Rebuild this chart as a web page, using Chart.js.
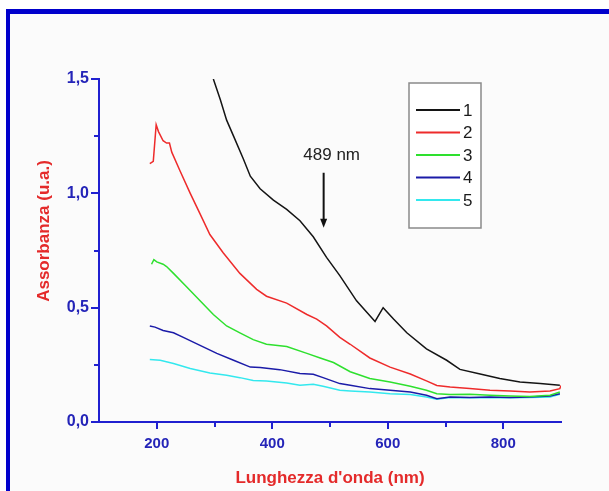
<!DOCTYPE html>
<html><head><meta charset="utf-8">
<script src="https://cdn.jsdelivr.net/npm/chart.js@4"></script>
<style>
html,body{margin:0;padding:0;background:#fff;overflow:hidden;width:609px;height:491px;}
#frame{position:absolute;left:6px;top:9px;width:700px;height:600px;border-left:4px solid #0000cc;border-top:5px solid #0000cc;background:#fbfbfb;}
#wrap{position:absolute;left:0;top:0;width:609px;height:491px;}
</style></head><body>
<div id="frame"></div>
<div id="wrap"><canvas id="c" width="609" height="491"></canvas></div>
<script>
// ---- data ----
const seriesNames = ['1','2','3','4','5'];
const wl1 = [298,310,321,333,350,362,379,402,425,448,471,494,517,546,578,592,610,633,667,702,725,760,794,829,864,898];
const abs1 = [1.50,1.41,1.32,1.25,1.15,1.075,1.02,0.97,0.93,0.88,0.81,0.72,0.64,0.53,0.44,0.50,0.45,0.39,0.32,0.27,0.23,0.21,0.19,0.175,0.168,0.161];
const wl2 = [188,194,199,203,211,217,222,226,240,258,275,292,315,344,373,390,425,460,477,494,517,535,569,604,639,667,685,708,742,777,812,846,881,898,900];
const abs2 = [1.13,1.14,1.30,1.27,1.23,1.22,1.22,1.18,1.10,1.00,0.91,0.82,0.74,0.65,0.58,0.55,0.52,0.47,0.45,0.42,0.37,0.34,0.28,0.24,0.21,0.18,0.16,0.153,0.146,0.139,0.136,0.131,0.136,0.146,0.16];
const wl3 = [191,195,200,211,217,229,252,275,298,321,344,367,390,425,460,483,506,535,569,604,639,667,685,708,742,777,812,846,881,898];
const abs3 = [0.69,0.71,0.70,0.69,0.68,0.65,0.59,0.53,0.47,0.42,0.39,0.36,0.34,0.33,0.30,0.28,0.26,0.22,0.19,0.175,0.156,0.139,0.124,0.12,0.121,0.117,0.114,0.112,0.117,0.131];
const wl4 = [188,197,211,229,246,275,304,333,362,379,413,448,471,488,517,535,569,604,639,667,685,708,742,777,812,846,881,898];
const abs4 = [0.42,0.415,0.40,0.39,0.37,0.335,0.30,0.27,0.24,0.238,0.229,0.212,0.209,0.194,0.168,0.161,0.146,0.139,0.131,0.117,0.102,0.109,0.107,0.109,0.107,0.109,0.114,0.124];
const wl5 = [188,206,229,258,292,321,344,367,390,425,448,471,488,517,535,569,604,639,667,685,708,742,777,812,846,881,898];
const abs5 = [0.273,0.27,0.256,0.234,0.214,0.204,0.194,0.182,0.179,0.171,0.161,0.165,0.156,0.139,0.136,0.131,0.124,0.12,0.109,0.099,0.107,0.106,0.107,0.106,0.107,0.109,0.121];
const xMajorTicks = [200,400,600,800];
const xMinorTicks = [300,500,700];
const yMajorTicks = [0,0.5,1.0,1.5];
const yMinorTicks = [0.25,0.75,1.25];
const arrowWl = 489, arrowTop = 1.09, arrowTip = 0.85, arrowLabel = '489 nm';

// ---- styling ----
const FONT = "'Liberation Sans', Arial, sans-serif";
const axisBlue = '#2020d0';
const labelBlue = '#2424b8';
const titleRed = '#e42a2a';
const colors = ['#141414','#ee2b2b','#2ee02e','#1b1ba8','#33e8ee'];
const wls = [wl1,wl2,wl3,wl4,wl5];
const abss = [abs1,abs2,abs3,abs4,abs5];

const datasets = seriesNames.map((n,i)=>({
  label:n,
  data: wls[i].map((w,j)=>({x:w,y:abss[i][j]})),
  borderColor: colors[i],
  backgroundColor: colors[i],
  borderWidth: 1.5,
  pointRadius: 0,
  tension: 0,
  fill:false
}));

const overlay = {
  id:'overlay',
  afterDraw(chart){
    const {ctx, scales:{x,y}} = chart;
    ctx.save();
    // minor ticks
    ctx.strokeStyle = axisBlue; ctx.lineWidth = 2;
    xMinorTicks.forEach(v=>{const px=Math.round(x.getPixelForValue(v)); ctx.beginPath(); ctx.moveTo(px, y.bottom); ctx.lineTo(px, y.bottom+5); ctx.stroke();});
    yMinorTicks.forEach(v=>{const py=Math.round(y.getPixelForValue(v)); ctx.beginPath(); ctx.moveTo(x.left, py); ctx.lineTo(x.left-5, py); ctx.stroke();});
    // y title
    ctx.fillStyle = titleRed;
    ctx.font = 'bold 17px ' + FONT;
    ctx.textAlign='center'; ctx.textBaseline='middle';
    ctx.translate(44, 231); ctx.rotate(-Math.PI/2);
    ctx.fillText('Assorbanza (u.a.)', 0, 0);
    ctx.setTransform(1,0,0,1,0,0);
    // legend
    const lx=409, ly=83, lw=72, lh=145;
    ctx.fillStyle='#ffffff'; ctx.fillRect(lx,ly,lw,lh);
    ctx.strokeStyle='#8a8a8a'; ctx.lineWidth=1.5; ctx.strokeRect(lx,ly,lw,lh);
    ctx.font = '17px ' + FONT; ctx.textAlign='left'; ctx.textBaseline='middle';
    chart.data.datasets.forEach((ds,i)=>{
      const ry = 110 + i*22.5;
      ctx.strokeStyle = ds.borderColor; ctx.lineWidth=2;
      ctx.beginPath(); ctx.moveTo(416, ry); ctx.lineTo(460, ry); ctx.stroke();
      ctx.fillStyle='#1a1a1a'; ctx.fillText(ds.label, 463, ry+1);
    });
    // annotation arrow
    const ax = x.getPixelForValue(arrowWl);
    const at = y.getPixelForValue(arrowTop), ab = y.getPixelForValue(arrowTip);
    ctx.strokeStyle='#111'; ctx.fillStyle='#111'; ctx.lineWidth=2;
    ctx.beginPath(); ctx.moveTo(ax, at); ctx.lineTo(ax, ab-8); ctx.stroke();
    ctx.beginPath(); ctx.moveTo(ax-3.5, ab-9); ctx.lineTo(ax+3.5, ab-9); ctx.lineTo(ax, ab); ctx.closePath(); ctx.fill();
    ctx.font = '17px ' + FONT; ctx.textAlign='center'; ctx.textBaseline='middle';
    ctx.fillStyle='#222';
    ctx.fillText(arrowLabel, ax+8, at-17);
    ctx.restore();
  }
};

new Chart(document.getElementById('c'), {
  type:'line',
  data:{datasets},
  options:{
    responsive:false,
    devicePixelRatio:1,
    animation:false,
    layout:{padding:{left:0,top:79,right:48,bottom:0}},
    plugins:{legend:{display:false}, tooltip:{enabled:false}},
    scales:{
      x:{
        type:'linear', min:100, max:900,
        afterBuildTicks:(s)=>{ s.ticks = xMajorTicks.map(v=>({value:v})); },
        afterFit:(s)=>{ s.height = 69; },
        ticks:{color:labelBlue, font:{family:FONT, size:15, weight:'bold'}, padding:6, maxRotation:0, autoSkip:false},
        grid:{display:true, drawOnChartArea:false, drawTicks:true, tickLength:7, color:axisBlue, lineWidth:2},
        border:{display:true, color:axisBlue, width:2},
        title:{display:true, text:"Lunghezza d'onda (nm)", color:titleRed, font:{family:FONT, size:17, weight:'bold'}, padding:{top:0,bottom:2}}
      },
      y:{
        type:'linear', min:0, max:1.5,
        afterBuildTicks:(s)=>{ s.ticks = yMajorTicks.map(v=>({value:v})); },
        afterFit:(s)=>{ s.width = 99; },
        ticks:{color:labelBlue, font:{family:FONT, size:16, weight:'bold'}, padding:2, autoSkip:false,
          callback:(v)=>Number(v).toFixed(1).replace('.',',')},
        grid:{display:true, drawOnChartArea:false, drawTicks:true, tickLength:8, color:axisBlue, lineWidth:2},
        border:{display:true, color:axisBlue, width:2}
      }
    }
  },
  plugins:[overlay]
});
</script>
</body></html>
